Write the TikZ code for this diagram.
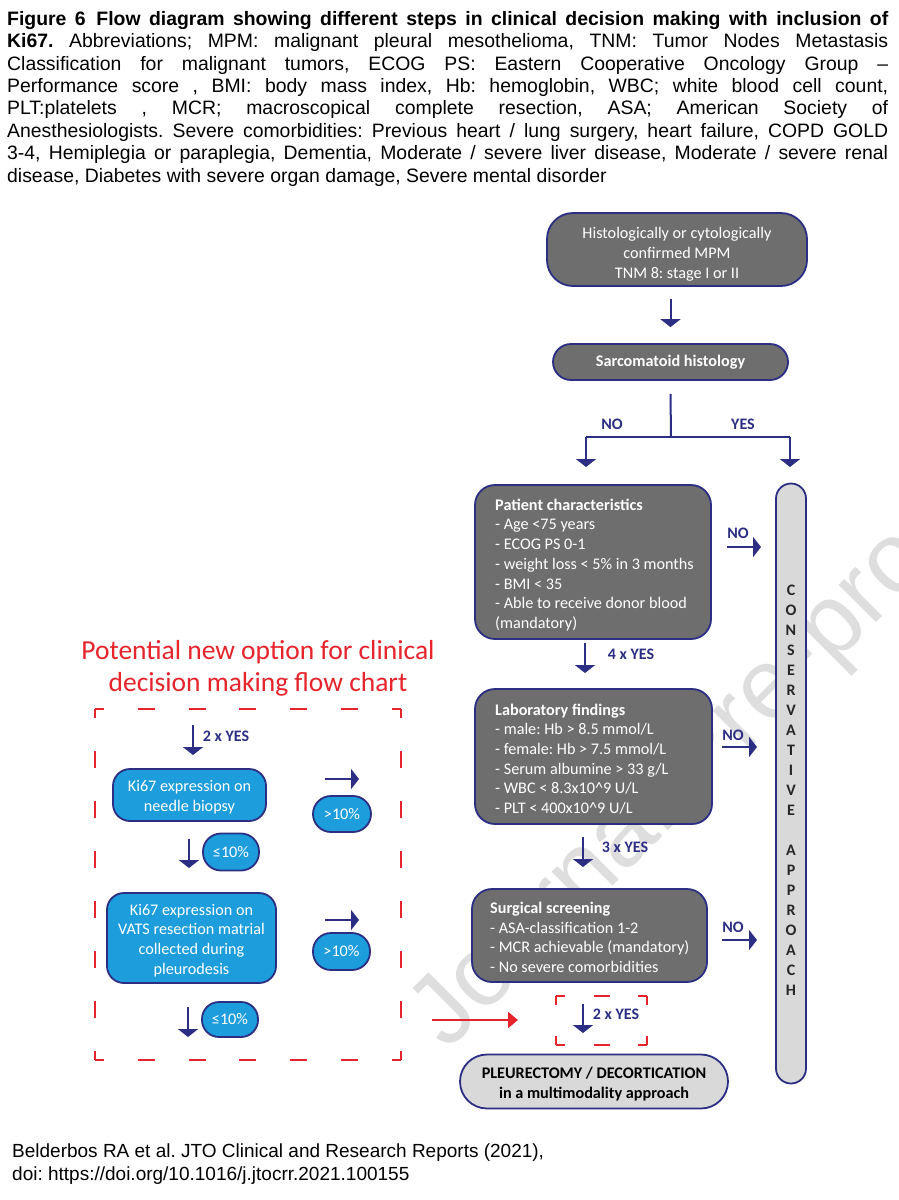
\documentclass[tikz,border=0pt]{standalone}
\usepackage{fontspec}
\setmainfont{Liberation Sans}
\newfontfamily\calfont{Carlito}
\usetikzlibrary{arrows.meta,calc}
\definecolor{navy}{RGB}{43,46,131}
\definecolor{boxgray}{RGB}{110,110,110}
\definecolor{lightgray2}{RGB}{217,217,217}
\definecolor{kiblue}{RGB}{29,157,219}
\definecolor{redline}{RGB}{229,36,44}
\definecolor{wmgray}{RGB}{222,222,222}
\newcommand{\capsz}{\fontsize{19.4}{22.4}\selectfont}
\newcommand{\boxsz}{\fontsize{16.2}{19.7}\selectfont}
\newcommand{\cl}[1]{\makebox[881pt][s]{#1}}
\frenchspacing
\begin{document}
\begin{tikzpicture}[x=1pt,y=-1pt,
  box/.style={draw=navy, line width=1.8pt, inner sep=0pt},
  graybox/.style={box, fill=boxgray, text=white, font=\calfont\boxsz, align=center},
  bluebox/.style={box, fill=kiblue, text=white, font=\calfont\fontsize{16.2}{20}\selectfont, align=center},
  lightbox/.style={box, fill=lightgray2, text=black, font=\calfont\bfseries\boxsz, align=center},
  listtxt/.style={text=white, font=\calfont\boxsz, align=left, inner sep=0pt},
  lbl/.style={text=navy, font=\calfont\bfseries\fontsize{16}{19}\selectfont, inner sep=0pt},
  flowline/.style={navy, line width=2pt},
  arr/.style={navy, line width=2pt, -{Triangle[width=20pt,length=8pt]}},
  redarr/.style={redline, line width=2pt, -{Triangle[width=16pt,length=10pt]}},
  reddash/.style={redline, line width=2.2pt},
  hside/.style={reddash, dash pattern=on 17pt off 33.8pt, dash phase=8pt},
  vside/.style={reddash, dash pattern=on 17pt off 33pt, dash phase=8pt},
  shside/.style={reddash, dash pattern=on 16pt off 28.5pt, dash phase=7pt},
  svside/.style={reddash, dash pattern=on 18pt off 31pt, dash phase=9pt}
]
\useasboundingbox (0,0) rectangle (899,1200);
\fill[white] (0,0) rectangle (899,1200);

% watermark
\node[text=wmgray, font=\fontsize{100}{100}\selectfont, rotate=45, anchor=base west, inner sep=0pt] (wm) at (447,1052) {Journal Pre-proof};

% caption
\node[anchor=north west, inner sep=0pt, align=left, font=\capsz] (cap) at (7,11) {%
\cl{\bfseries Figure 6\hspace{0.55em}Flow diagram showing different steps in clinical decision making with inclusion of}\\
\cl{\textbf{Ki67.} Abbreviations; MPM: malignant pleural mesothelioma, TNM: Tumor Nodes Metastasis}\\
\cl{Classification for malignant tumors, ECOG PS: Eastern Cooperative Oncology Group –}\\
\cl{Performance score , BMI: body mass index, Hb: hemoglobin, WBC; white blood cell count,}\\
\cl{PLT:platelets , MCR; macroscopical complete resection, ASA; American Society of}\\
\cl{Anesthesiologists. Severe comorbidities: Previous heart / lung surgery, heart failure, COPD GOLD}\\
\cl{3-4, Hemiplegia or paraplegia, Dementia, Moderate / severe liver disease, Moderate / severe renal}\\
disease, Diabetes with severe organ damage, Severe mental disorder};

% main flow
\node[graybox, minimum width=260pt, minimum height=73pt, rounded corners=26pt] (top) at (677,249.5) {};
\node[text=white, font=\calfont\fontsize{16.2}{20}\selectfont, align=center, inner sep=0pt] (toptxt) at (677,254)
  {Histologically or cytologically\\confirmed MPM\\TNM 8: stage I or II};
\node[graybox, font=\calfont\bfseries\boxsz, minimum width=235pt, minimum height=36pt, rounded corners=18pt] (sarc) at (670.5,362) {Sarcomatoid histology};
\draw[arr] ($(sarc.north |- top.south)+(0,12)$) -- ($(sarc.north)+(0,-16)$);

\coordinate (jC) at (671,437);
\coordinate (jL) at (586,437);
\coordinate (jR) at (790,437);
\coordinate (eL) at (586,467);
\coordinate (eR) at (790,467);
\draw[flowline] ($(sarc.south)+(0,13)$) -- (jC);
\draw[flowline] (jL) -- (jR);
\draw[arr] (jL) -- (eL);
\draw[arr] (jR) -- (eR);
\node[lbl] (lno) at (612,424) {NO};
\node[lbl] (lyes) at (743,424) {YES};

% conservative approach bar
\node[box, fill=lightgray2, minimum width=30pt, minimum height=600pt, rounded corners=15pt] (cons) at (791,783.5) {};
\node[text=black!85, font=\calfont\bfseries\fontsize{16}{20}\selectfont, align=center, inner sep=0pt] (constxt) at (791,790)
  {C\\O\\N\\S\\E\\R\\V\\A\\T\\I\\V\\E\\ \\A\\P\\P\\R\\O\\A\\C\\H};

% patient characteristics
\node[graybox, minimum width=236pt, minimum height=154pt, rounded corners=20pt] (pat) at (593,562) {};
\node[listtxt, anchor=west] (pattxt) at (495,565) {\textbf{Patient characteristics}\\- Age <75 years\\- ECOG PS 0-1\\- weight loss < 5\% in 3 months\\- BMI < 35\\- Able to receive donor blood\\(mandatory)};
\coordinate (n1s) at (727,547);
\coordinate (n1e) at (761,547);
\draw[arr] (n1s) -- (n1e);
\node[lbl] (lno1) at (738,533) {NO};

\coordinate (y4s) at (585,643);
\coordinate (y4e) at (585,673);
\draw[arr] (y4s) -- (y4e);
\node[lbl] (l4) at (631,654) {4 x YES};

% laboratory findings
\node[graybox, minimum width=237pt, minimum height=135pt, rounded corners=20pt] (lab) at (593.5,756.5) {};
\node[listtxt, anchor=west] (labtxt) at (495,759) {\textbf{Laboratory findings}\\- male: Hb > 8.5 mmol/L\\- female: Hb > 7.5 mmol/L\\- Serum albumine > 33 g/L\\- WBC < 8.3x10\textasciicircum9 U/L\\- PLT < 400x10\textasciicircum9 U/L};
\coordinate (n2s) at (722,747);
\coordinate (n2e) at (757,747);
\draw[arr] (n2s) -- (n2e);
\node[lbl] (lno2) at (733,735) {NO};

\coordinate (y3s) at (583,837);
\coordinate (y3e) at (583,867);
\draw[arr] (y3s) -- (y3e);
\node[lbl] (l3) at (625,847) {3 x YES};

% surgical screening
\node[graybox, minimum width=235pt, minimum height=93pt, rounded corners=20pt] (surg) at (589.5,935.5) {};
\node[listtxt, anchor=west] (surgtxt) at (490,937.5) {\textbf{Surgical screening}\\- ASA-classification 1-2\\- MCR achievable (mandatory)\\- No severe comorbidities};
\coordinate (n3s) at (722,940);
\coordinate (n3e) at (757,940);
\draw[arr] (n3s) -- (n3e);
\node[lbl] (lno3) at (733,927) {NO};

% small red dashed box with 2 x YES
\draw[shside] (556,996) -- (647,996);
\draw[shside] (556,1045) -- (647,1045);
\draw[svside] (556,996) -- (556,1045);
\draw[svside] (647,996) -- (647,1045);
\coordinate (y2s) at (583,1004);
\coordinate (y2e) at (583,1033);
\draw[arr] (y2s) -- (y2e);
\node[lbl] (l2) at (616,1014) {2 x YES};

\coordinate (ra) at (432,1020);
\coordinate (rb) at (518,1020);
\draw[redarr] (ra) -- (rb);

% final box
\node[box, fill=lightgray2, minimum width=268pt, minimum height=54pt, rounded corners=27pt] (pleur) at (594,1081.5) {};
\node[text=black, font=\calfont\bfseries\fontsize{16.2}{19.5}\selectfont, align=center, inner sep=0pt] (pleurtxt) at (594,1084)
  {PLEURECTOMY / DECORTICATION\\in a multimodality approach};

% left: potential new option
\node[text=redline, font=\calfont\fontsize{27.5}{32}\selectfont, align=center, inner sep=0pt] (newopt) at (258,668)
  {Potential new option for clinical\\decision making flow chart};
\draw[hside] (95,709) -- (401,709);
\draw[hside] (95,1060) -- (401,1060);
\draw[vside] (95,709) -- (95,1060);
\draw[vside] (401,709) -- (401,1060);

\coordinate (k0s) at (193,725);
\coordinate (k0e) at (193,755);
\draw[arr] (k0s) -- (k0e);
\node[lbl] (lk0) at (226,736) {2 x YES};

\node[bluebox, minimum width=153pt, minimum height=52pt, rounded corners=17pt] (ki1) at (189.5,795) {};
\node[text=white, font=\calfont\fontsize{16.2}{20}\selectfont, align=center, inner sep=0pt] (ki1txt) at (189.5,797.5) {Ki67 expression on\\needle biopsy};
\coordinate (r1s) at (325,779);
\coordinate (r1e) at (359,779);
\draw[arr] (r1s) -- (r1e);
\node[bluebox, minimum width=58pt, minimum height=36pt, rounded corners=18pt] (gt1) at (342,814) {>10\%};
\coordinate (d1s) at (189,839);
\coordinate (d1e) at (189,868);
\draw[arr] (d1s) -- (d1e);
\node[bluebox, minimum width=56pt, minimum height=37pt, rounded corners=18pt] (le1) at (231,852) {≤10\%};

\node[bluebox, minimum width=169pt, minimum height=90pt, rounded corners=17pt] (ki2) at (191.5,938) {};
\node[text=white, font=\calfont\fontsize{16.2}{19.7}\selectfont, align=center, inner sep=0pt] (ki2txt) at (191.5,940.5) {Ki67 expression on\\VATS resection matrial\\collected during\\pleurodesis};
\coordinate (r2s) at (325,920);
\coordinate (r2e) at (359,920);
\draw[arr] (r2s) -- (r2e);
\node[bluebox, minimum width=57pt, minimum height=37pt, rounded corners=18pt] (gt2) at (341.5,951.5) {>10\%};
\coordinate (d2s) at (188,1007);
\coordinate (d2e) at (188,1037);
\draw[arr] (d2s) -- (d2e);
\node[bluebox, minimum width=56pt, minimum height=35pt, rounded corners=17pt] (le2) at (230,1019.5) {≤10\%};

% footer
\node[anchor=north west, inner sep=0pt, align=left, font=\fontsize{19}{22.6}\selectfont] (foot) at (12,1144)
  {Belderbos RA et al. JTO Clinical and Research Reports (2021),\\doi: https://doi.org/10.1016/j.jtocrr.2021.100155};
\end{tikzpicture}
\end{document}
